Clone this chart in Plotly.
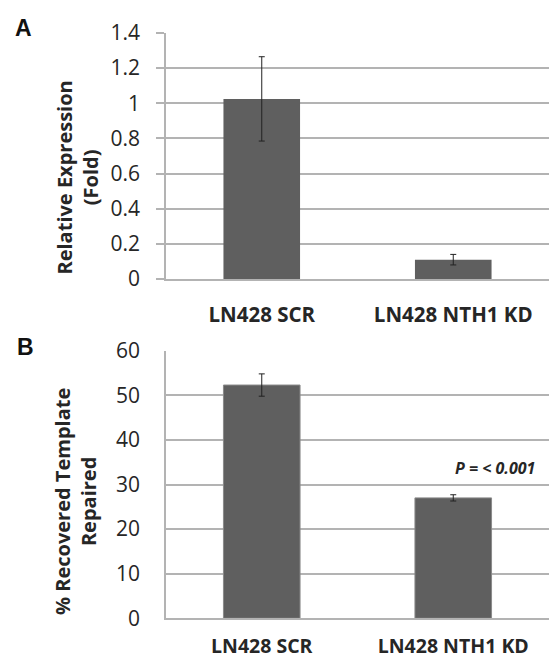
import plotly.graph_objects as go
from plotly.subplots import make_subplots

categories = ["LN428 SCR", "LN428 NTH1 KD"]
expr_values = [1.025, 0.11]
expr_errors = [0.24, 0.03]
repair_values = [52.3, 27.0]
repair_errors = [2.5, 0.7]
a_ticks = [0, 0.2, 0.4, 0.6, 0.8, 1.0, 1.2, 1.4]
a_ticktext = ["0", "0.2", "0.4", "0.6", "0.8", "1", "1.2", "1.4"]
b_ticks = [0, 10, 20, 30, 40, 50, 60]
p_label = "P = < 0.001"
p_y = 33.7

W, H = 550, 659
BAR = "#5f5f5f"
GRID = "#b3b3b3"
FONT = "Open Sans"
TXT = "#262626"

fig = make_subplots(rows=2, cols=1)
fig.add_trace(go.Bar(x=categories, y=expr_values, marker=dict(color=BAR, line=dict(width=0)),
                     error_y=dict(type="data", array=expr_errors, color="#222222", thickness=1, width=3)),
              row=1, col=1)
fig.add_trace(go.Bar(x=categories, y=repair_values, marker=dict(color=BAR, line=dict(color="#8a8a8a", width=1)),
                     error_y=dict(type="data", array=repair_errors, color="#222222", thickness=1, width=3)),
              row=2, col=1)

xdom = [166 / W, 549 / W]
def py(p):
    return 1 - p / H

fig.update_layout(
    width=W, height=H, margin=dict(l=0, r=0, t=0, b=0),
    paper_bgcolor="white", plot_bgcolor="white", showlegend=False, bargap=0.6,
    font=dict(family=FONT, color=TXT),
)
common_x = dict(showline=True, linecolor=GRID, linewidth=1.5, ticks="", showgrid=False,
                automargin=False, tickprefix="<b>", ticksuffix="</b>")
fig.update_xaxes(domain=xdom, **common_x, tickfont=dict(family=FONT, size=20.5, color=TXT),
                 ticklabelstandoff=17, row=1, col=1)
fig.update_xaxes(domain=xdom, **common_x, tickfont=dict(family=FONT, size=19.5, color=TXT),
                 ticklabelstandoff=10, row=2, col=1)

fig.update_yaxes(domain=[py(279), py(33)], range=[0, 1.4], tickvals=a_ticks, ticktext=a_ticktext,
                 showgrid=True, gridcolor=GRID, gridwidth=1.5, showline=True, linecolor=GRID, linewidth=1.5,
                 ticks="outside", ticklen=8, tickcolor=GRID, tickwidth=1.5, zeroline=False,
                 tickfont=dict(family=FONT, size=21, color=TXT), ticklabelstandoff=12,
                 automargin=False, row=1, col=1)
fig.update_yaxes(domain=[py(618.3), py(350.7)], range=[0, 60], tickvals=b_ticks,
                 showgrid=True, gridcolor=GRID, gridwidth=1.5, showline=True, linecolor=GRID, linewidth=1.5,
                 ticks="", zeroline=False,
                 tickfont=dict(family=FONT, size=21, color=TXT), ticklabelstandoff=20,
                 automargin=False, row=2, col=1)

annos = [
    dict(text="<b>A</b>", x=23 / W, y=py(28), font=dict(family="Liberation Sans", size=23, color="#111")),
    dict(text="<b>B</b>", x=25 / W, y=py(347), font=dict(family="Liberation Sans", size=23, color="#111")),
    dict(text="<b>Relative Expression<br>(Fold)</b>", x=77 / W, y=py(177.5), textangle=-90,
         font=dict(family=FONT, size=20, color=TXT)),
    dict(text="<b>% Recovered Template<br>Repaired</b>", x=75 / W, y=py(502), textangle=-90,
         font=dict(family=FONT, size=20, color=TXT)),
]
for a in annos:
    fig.add_annotation(xref="paper", yref="paper", showarrow=False, xanchor="center", yanchor="middle", **a)

fig.add_annotation(xref="x2", yref="y2", x=categories[1], y=p_y, text="<b><i>" + p_label + "</i></b>",
                   showarrow=False, xanchor="left", yanchor="middle",
                   font=dict(family=FONT, size=16, color=TXT))

fig.write_html("out.html")
